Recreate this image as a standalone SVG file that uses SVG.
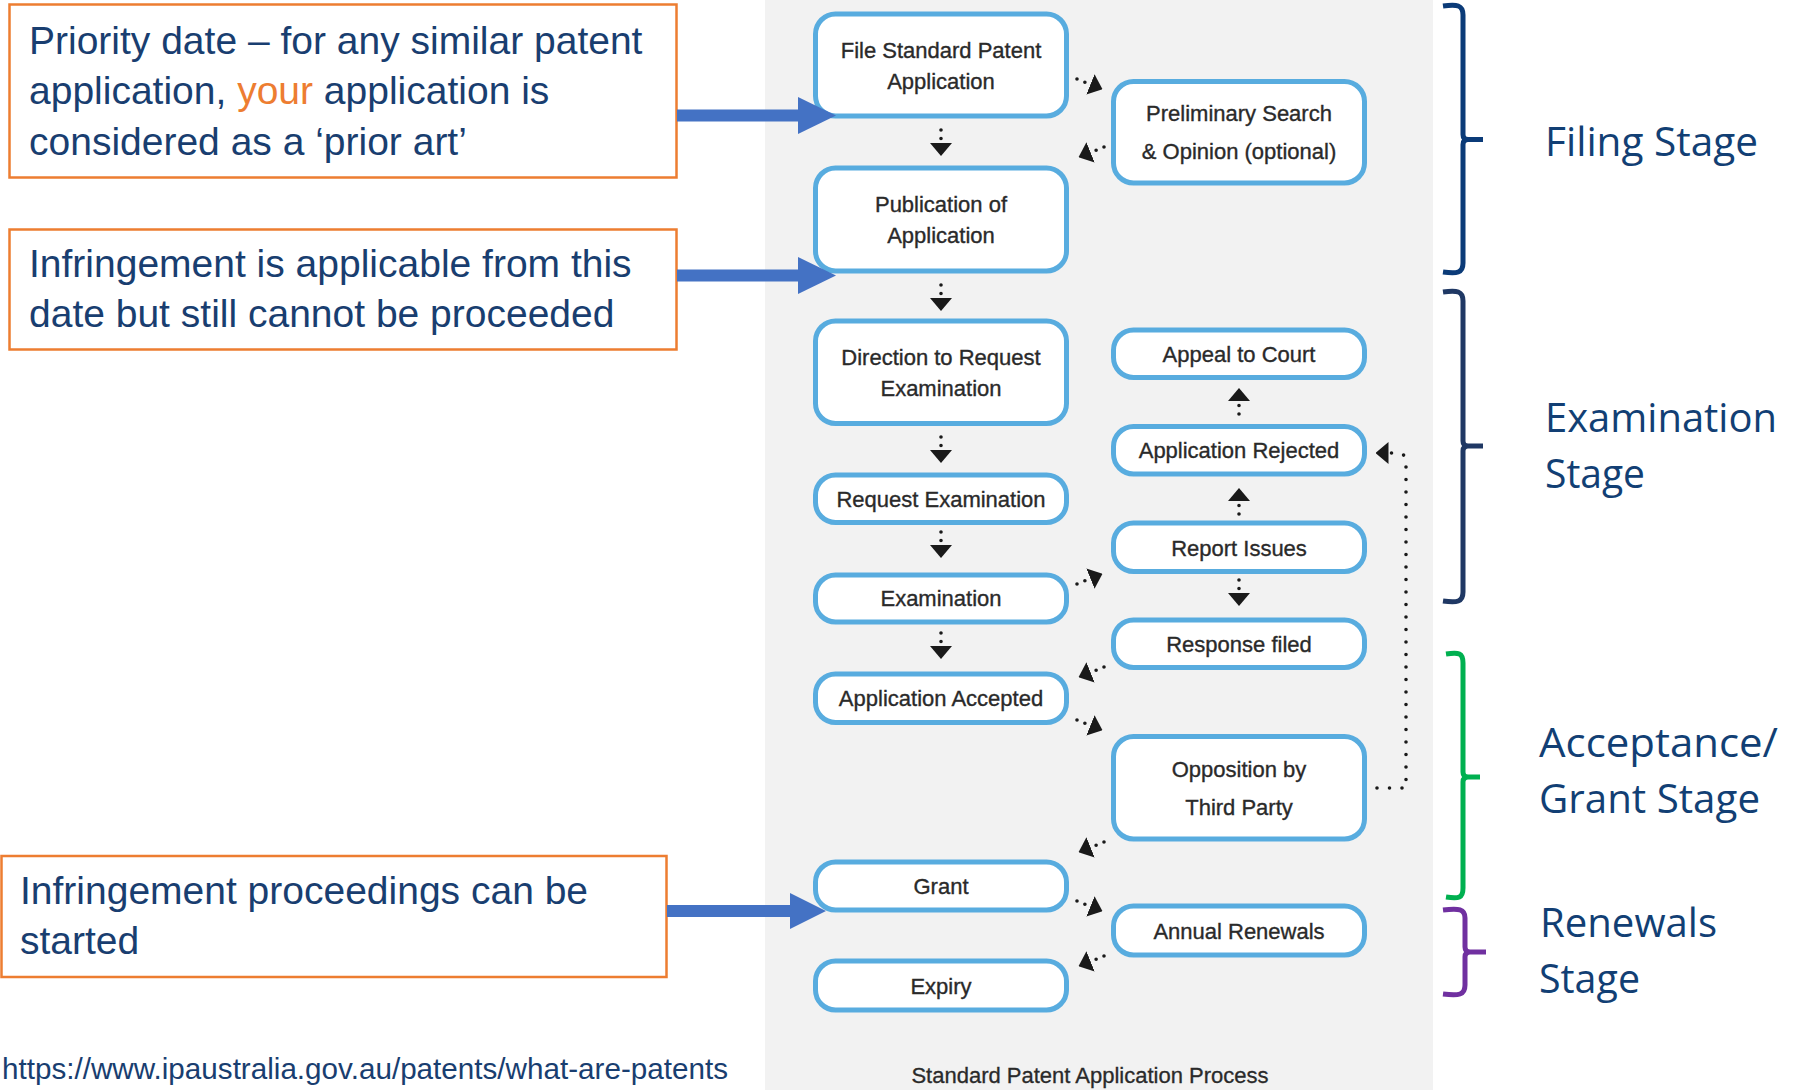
<svg xmlns="http://www.w3.org/2000/svg" width="1798" height="1090" viewBox="0 0 1798 1090">
  <style>
    .node rect { fill: #ffffff; stroke: #58ACDF; stroke-width: 5; }
    .node text { font-family: "Liberation Sans", Arial, sans-serif; font-size: 22px; fill: #2a2a2a; stroke: #2a2a2a; stroke-width: 0.35; text-anchor: middle; }
    .dot { fill: none; stroke: #1a1a1a; stroke-width: 3.6; stroke-linecap: round; stroke-dasharray: 0 8.5; marker-end: url(#ah); }
    .dotlong { fill: none; stroke: #1a1a1a; stroke-width: 3.6; stroke-linecap: round; stroke-linejoin: round; stroke-dasharray: 0 12.5; marker-end: url(#ah); }
    .note rect { fill: #ffffff; stroke: #ED7D31; stroke-width: 2.5; }
    .note text { font-family: "Liberation Sans", Arial, sans-serif; font-size: 39px; fill: #193E70; }
    .blue { fill: #4472C4; }
    .brace { fill: none; stroke-width: 5; stroke-linecap: butt; stroke-linejoin: round; }
    .stage { font-family: "Open Sans", "Liberation Sans", sans-serif; font-size: 41px; fill: #123F74; }
    .caption { font-family: "Liberation Sans", Arial, sans-serif; font-size: 22px; fill: #2a2a2a; stroke: #2a2a2a; stroke-width: 0.3; text-anchor: middle; }
  </style>
  <defs>
    <marker id="ah" markerUnits="userSpaceOnUse" markerWidth="13" markerHeight="22" viewBox="0 0 13 22" refX="0.5" refY="11" orient="auto">
      <path d="M0,0 L13,11 L0,22 Z" fill="#1a1a1a"/>
    </marker>
  </defs>

  <rect x="0" y="0" width="1798" height="1090" fill="#ffffff"/>
  <rect id="panel" x="765" y="0" width="668" height="1090" fill="#F2F2F2"/>

  <g id="connectors">
    <path class="dot" d="M941,130 L941,143.5"/>
    <path class="dot" d="M941,285 L941,298.5"/>
    <path class="dot" d="M941,437 L941,450.5"/>
    <path class="dot" d="M941,532 L941,545.5"/>
    <path class="dot" d="M941,633 L941,646.5"/>
    <path class="dot" d="M1239,414 L1239,400.5"/>
    <path class="dot" d="M1239,514 L1239,500.5"/>
    <path class="dot" d="M1239,580 L1239,593.5"/>
    <path class="dot" d="M1077,79 L1090.9,84.6"/>
    <path class="dot" d="M1104,147 L1090.1,152.6"/>
    <path class="dot" d="M1077,584 L1090.9,578.4"/>
    <path class="dot" d="M1104,667 L1090.1,672.6"/>
    <path class="dot" d="M1077,720 L1090.9,725.6"/>
    <path class="dot" d="M1104,842 L1090.1,847.6"/>
    <path class="dot" d="M1077,901 L1090.9,906.6"/>
    <path class="dot" d="M1104,956 L1090.1,961.6"/>
    <path class="dotlong" d="M1377,788 L1406,788 L1406,462 Q1406,453 1397,453 L1388,453"/>
  </g>

  <g id="n-file" class="node">
    <rect x="815.5" y="14" width="251" height="102" rx="20"/>
    <text x="941" y="58">File Standard Patent</text>
    <text x="941" y="89">Application</text>
  </g>
  <g id="n-prelim" class="node">
    <rect x="1113.5" y="81.5" width="251" height="101.5" rx="20"/>
    <text x="1239" y="121">Preliminary Search</text>
    <text x="1239" y="159">&amp; Opinion (optional)</text>
  </g>
  <g id="n-publication" class="node">
    <rect x="815.5" y="168" width="251" height="103" rx="20"/>
    <text x="941" y="212">Publication of</text>
    <text x="941" y="243">Application</text>
  </g>
  <g id="n-direction" class="node">
    <rect x="815.5" y="321" width="251" height="102.5" rx="20"/>
    <text x="941" y="365">Direction to Request</text>
    <text x="941" y="396">Examination</text>
  </g>
  <g id="n-appeal" class="node">
    <rect x="1113.5" y="330" width="251" height="47.5" rx="20"/>
    <text x="1239" y="362">Appeal to Court</text>
  </g>
  <g id="n-rejected" class="node">
    <rect x="1113.5" y="426.5" width="251" height="47.5" rx="20"/>
    <text x="1239" y="457.5">Application Rejected</text>
  </g>
  <g id="n-request" class="node">
    <rect x="815.5" y="475" width="251" height="47.5" rx="20"/>
    <text x="941" y="506.5">Request Examination</text>
  </g>
  <g id="n-report" class="node">
    <rect x="1113.5" y="523" width="251" height="48.5" rx="20"/>
    <text x="1239" y="555.5">Report Issues</text>
  </g>
  <g id="n-examination" class="node">
    <rect x="815.5" y="575" width="251" height="47" rx="20"/>
    <text x="941" y="606">Examination</text>
  </g>
  <g id="n-response" class="node">
    <rect x="1113.5" y="620" width="251" height="47.5" rx="20"/>
    <text x="1239" y="651.5">Response filed</text>
  </g>
  <g id="n-accepted" class="node">
    <rect x="815.5" y="674" width="251" height="48.5" rx="20"/>
    <text x="941" y="706">Application Accepted</text>
  </g>
  <g id="n-opposition" class="node">
    <rect x="1113.5" y="736.5" width="251" height="102.5" rx="20"/>
    <text x="1239" y="777">Opposition by</text>
    <text x="1239" y="815">Third Party</text>
  </g>
  <g id="n-grant" class="node">
    <rect x="815.5" y="862" width="251" height="48" rx="20"/>
    <text x="941" y="893.5">Grant</text>
  </g>
  <g id="n-renewals" class="node">
    <rect x="1113.5" y="906" width="251" height="49" rx="20"/>
    <text x="1239" y="938.5">Annual Renewals</text>
  </g>
  <g id="n-expiry" class="node">
    <rect x="815.5" y="961" width="251" height="49" rx="20"/>
    <text x="941" y="993.5">Expiry</text>
  </g>

  <text id="caption" class="caption" x="1090" y="1083">Standard Patent Application Process</text>

  <g id="note-priority" class="note">
    <rect x="9.5" y="4.5" width="667" height="173"/>
    <text x="29" y="53.5">Priority date – for any similar patent</text>
    <text x="29" y="103.5">application, <tspan fill="#ED7D31">your</tspan> application is</text>
    <text x="29" y="154.5">considered as a ‘prior art’</text>
  </g>
  <g id="note-infringement" class="note">
    <rect x="9.5" y="229.5" width="667" height="120"/>
    <text x="29" y="277">Infringement is applicable from this</text>
    <text x="29" y="327">date but still cannot be proceeded</text>
  </g>
  <g id="note-proceedings" class="note">
    <rect x="1.5" y="856" width="665" height="121"/>
    <text x="20" y="903.5">Infringement proceedings can be</text>
    <text x="20" y="953.5">started</text>
  </g>

  <g id="note-arrows">
    <rect class="blue" x="677" y="109.5" width="123" height="12"/>
    <polygon class="blue" points="798,97 836,115.5 798,134"/>
    <rect class="blue" x="677" y="269.5" width="123" height="12"/>
    <polygon class="blue" points="798,257 836,275.5 798,294"/>
    <rect class="blue" x="667" y="905" width="125" height="12"/>
    <polygon class="blue" points="790,893 826,911 790,929"/>
  </g>

  <text id="source" x="2" y="1079" font-family="Liberation Sans, Arial, sans-serif" font-size="29.2" fill="#193E70" textLength="726" lengthAdjust="spacingAndGlyphs">https://www.ipaustralia.gov.au/patents/what-are-patents</text>

  <g id="stages">
    <path class="brace" stroke="#0B3B78" d="M1443,6 C1457,4 1463,5 1463,15 L1463,134.5 Q1463,139.5 1468,139.5 L1483,139.5 M1468,139.5 Q1463,139.5 1463,144.5 L1463,263 C1463,273 1457,274 1443,272"/>
    <path class="brace" stroke="#1F3864" d="M1443,292 C1457,290 1463,291 1463,301 L1463,441 Q1463,446 1468,446 L1483,446 M1468,446 Q1463,446 1463,451 L1463,592 C1463,602 1457,603 1443,601"/>
    <path class="brace" stroke="#00B050" d="M1446,654 C1459,652 1463,653 1463,663 L1463,772 Q1463,777 1468,777 L1480,777 M1468,777 Q1463,777 1463,782 L1463,888 C1463,898 1459,899 1446,897"/>
    <path class="brace" stroke="#7030A0" d="M1443,910 C1459,908 1465,909 1465,918 L1465,947 Q1465,952 1470,952 L1486,952 M1470,952 Q1465,952 1465,957 L1465,985 C1465,995 1459,996 1443,994"/>
    <text class="stage" x="1545" y="156" textLength="213" lengthAdjust="spacingAndGlyphs">Filing Stage</text>
    <text class="stage" x="1545" y="432" textLength="232" lengthAdjust="spacingAndGlyphs">Examination</text>
    <text class="stage" x="1545" y="488" textLength="100" lengthAdjust="spacingAndGlyphs">Stage</text>
    <text class="stage" x="1539" y="757" textLength="239" lengthAdjust="spacingAndGlyphs">Acceptance/</text>
    <text class="stage" x="1539" y="813" textLength="221" lengthAdjust="spacingAndGlyphs">Grant Stage</text>
    <text class="stage" x="1540" y="937" textLength="177" lengthAdjust="spacingAndGlyphs">Renewals</text>
    <text class="stage" x="1539" y="993" textLength="101" lengthAdjust="spacingAndGlyphs">Stage</text>
  </g>
</svg>
